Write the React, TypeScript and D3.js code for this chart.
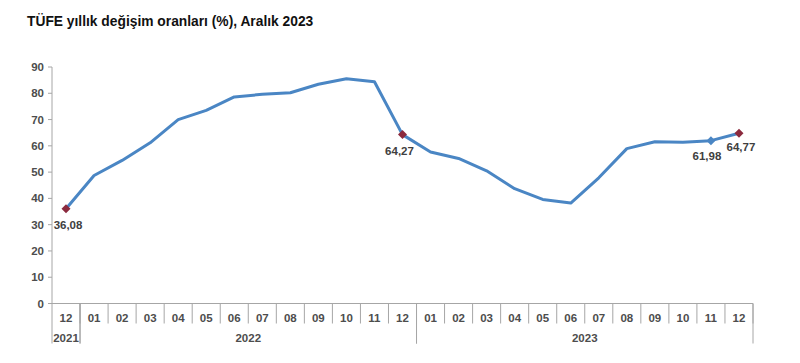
import React from "react";
import * as d3 from "d3";

const months = ["12","01","02","03","04","05","06","07","08","09","10","11","12","01","02","03","04","05","06","07","08","09","10","11","12"];
const years = [
  { label: "2021", start: 0, end: 1 },
  { label: "2022", start: 1, end: 13 },
  { label: "2023", start: 13, end: 25 },
];
const values = [36.08, 48.69, 54.44, 61.14, 69.97, 73.5, 78.62, 79.6, 80.21, 83.45, 85.51, 84.39, 64.27, 57.68, 55.18, 50.51, 43.68, 39.59, 38.21, 47.83, 58.94, 61.53, 61.36, 61.98, 64.77];
const yTicks = [0, 10, 20, 30, 40, 50, 60, 70, 80, 90];
const labeled = [
  { i: 0, text: "36,08", color: "#8b2a3e", dx: 2, dy: 16 },
  { i: 12, text: "64,27", color: "#8b2a3e", dx: -3, dy: 16 },
  { i: 23, text: "61,98", color: "#4a86c4", dx: -4, dy: 15 },
  { i: 24, text: "64,77", color: "#8b2a3e", dx: 2, dy: 14 },
];

export default function App() {
  const W = 800, H = 363;
  const left = 52, right = 753, top = 67, bottom = 303.5;
  const x = d3.scaleBand<number>().domain(d3.range(months.length)).range([left, right]).padding(0);
  const y = d3.scaleLinear().domain([0, 90]).range([bottom, top]);
  const cx = (i: number) => (x(i) as number) + x.bandwidth() / 2;
  const line = d3.line<number>().x((_, i) => cx(i)).y((d) => y(d));
  const font = "'Liberation Sans', Arial, sans-serif";
  const txt = "#4d4d4d";
  const axisC = "#a6a6a6";
  const r = 4.5;
  const diamond = `M0,${-r}L${r},0L0,${r}L${-r},0Z`;

  return (
    <svg width={W} height={H} style={{ position: "absolute", left: 0, top: 0, background: "#fff" }} fontFamily={font}>
      <text x={27} y={26} fontSize={13.8} fontWeight="bold" fill="#111">TÜFE yıllık değişim oranları (%), Aralık 2023</text>
      <line x1={left} x2={left} y1={top} y2={bottom} stroke={axisC} strokeWidth={1} />
      {yTicks.map((t) => (
        <g key={t}>
          <line x1={left - 4} x2={left} y1={y(t)} y2={y(t)} stroke={axisC} />
          <text x={left - 8} y={y(t)} dy="0.35em" textAnchor="end" fontSize={11.5} fontWeight="bold" fill={txt}>{t}</text>
        </g>
      ))}
      <line x1={left} x2={right} y1={bottom} y2={bottom} stroke={axisC} />
      {months.map((m, i) => (
        <g key={i}>
          <line x1={(x(i) as number) + x.bandwidth()} x2={(x(i) as number) + x.bandwidth()} y1={bottom} y2={bottom + 20} stroke={axisC} />
          <text x={cx(i)} y={bottom + 14} dy="0.35em" textAnchor="middle" fontSize={11.5} fontWeight="bold" fill={txt}>{m}</text>
        </g>
      ))}
      {years.map((yr) => {
        const x0 = x(yr.start) as number;
        const x1 = yr.end >= months.length ? right : (x(yr.end) as number);
        return (
          <g key={yr.label}>
            <line x1={x0} x2={x0} y1={bottom} y2={bottom + 40} stroke={axisC} />
            <line x1={x1} x2={x1} y1={bottom} y2={bottom + 40} stroke={axisC} />
            <text x={(x0 + x1) / 2} y={bottom + 34} dy="0.35em" textAnchor="middle" fontSize={11.5} fontWeight="bold" fill={txt}>{yr.label}</text>
          </g>
        );
      })}
      <path d={line(values) as string} fill="none" stroke="#4a86c4" strokeWidth={3} strokeLinejoin="round" />
      {labeled.map((l) => (
        <g key={l.i}>
          <path d={diamond} transform={`translate(${cx(l.i)},${y(values[l.i])})`} fill={l.color} />
          <text x={cx(l.i) + l.dx} y={y(values[l.i]) + l.dy} dy="0.35em" textAnchor="middle" fontSize={11.5} fontWeight="bold" fill="#404040">{l.text}</text>
        </g>
      ))}
    </svg>
  );
}
